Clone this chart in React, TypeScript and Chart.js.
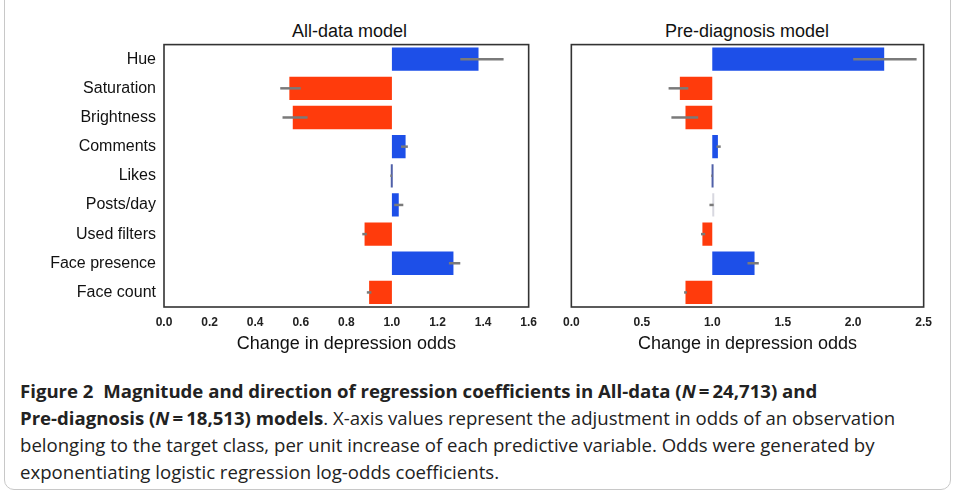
import React, { useEffect, useRef } from "react";
import { Chart, registerables } from "chart.js";
Chart.register(...registerables);

const categories = ["Hue", "Saturation", "Brightness", "Comments", "Likes", "Posts/day", "Used filters", "Face presence", "Face count"];
const allValues = [1.38, 0.55, 0.565, 1.06, 0.995, 1.03, 0.88, 1.27, 0.9];
const allErrLo = [1.3, 0.51, 0.52, 1.04, 0.993, 1.01, 0.87, 1.25, 0.89];
const allErrHi = [1.49, 0.6, 0.63, 1.07, 1.0, 1.05, 0.89, 1.3, 0.91];
const preValues = [2.22, 0.77, 0.81, 1.04, 0.995, 1.01, 0.93, 1.3, 0.81];
const preErrLo = [2.0, 0.69, 0.71, 1.03, 0.993, 0.98, 0.92, 1.25, 0.8];
const preErrHi = [2.45, 0.83, 0.9, 1.06, 1.0, 1.01, 0.95, 1.33, 0.82];
const allTicks = [0, 0.2, 0.4, 0.6, 0.8, 1.0, 1.2, 1.4, 1.6];
const preTicks = [0, 0.5, 1.0, 1.5, 2.0, 2.5];

const BLUE = "#1d4fe8";
const RED = "#ff3b0c";

function makeChart(canvas: HTMLCanvasElement, values: number[], lo: number[], hi: number[], ticks: number[], showCats: boolean, yWidth: number, padRight: number, pale: number[]) {
  const colors = values.map((v, i) => (pale.includes(i) ? "#d8d8e0" : i === 4 ? "#5060a8" : v >= 1 ? BLUE : RED));
  const plugin = {
    id: "extras",
    afterDatasetsDraw(chart: any) {
      const { ctx, chartArea: a, scales } = chart;
      ctx.save();
      ctx.strokeStyle = "#7a7a7a";
      ctx.lineWidth = 2.5;
      categories.forEach((_, i) => {
        const y = scales.y.getPixelForValue(i);
        ctx.beginPath();
        ctx.moveTo(scales.x.getPixelForValue(lo[i]), y);
        ctx.lineTo(scales.x.getPixelForValue(hi[i]), y);
        ctx.stroke();
      });
      ctx.strokeStyle = "#333";
      ctx.lineWidth = 1.6;
      ctx.strokeRect(a.left, a.top, a.right - a.left, a.bottom - a.top);
      ctx.restore();
    },
  };
  return new Chart(canvas, {
    type: "bar",
    data: {
      labels: categories,
      datasets: [{
        data: values.map((v) => [1, v]) as any,
        backgroundColor: colors,
        borderColor: colors,
        borderWidth: 0,
        barPercentage: 1,
        categoryPercentage: 0.8,
        minBarLength: 2,
      }],
    },
    options: {
      indexAxis: "y",
      animation: false,
      responsive: false,
      layout: { padding: { top: 1, right: padRight, left: 0, bottom: 0 } },
      plugins: { legend: { display: false }, tooltip: { enabled: false } },
      scales: {
        x: {
          type: "linear",
          min: ticks[0],
          max: ticks[ticks.length - 1],
          afterBuildTicks: (s: any) => { s.ticks = ticks.map((t) => ({ value: t })); },
          afterFit: (s: any) => { s.height = 52; },
          grid: { display: false, drawTicks: false },
          border: { display: false },
          ticks: { color: "#222", font: { family: "Arial", size: 12, weight: "bold" }, padding: 8, maxRotation: 0, callback: (v: any) => Number(v).toFixed(1) },
          title: { display: true, text: "Change in depression odds", color: "#111", font: { family: "Arial", size: 18 }, padding: { top: 2 } },
        },
        y: {
          afterFit: (s: any) => { s.width = yWidth; },
          grid: { display: false, drawTicks: false },
          border: { display: false },
          ticks: { display: true, color: showCats ? "#111" : "rgba(0,0,0,0)", font: { family: "Arial", size: 16 }, padding: 8 },
        },
      },
    },
    plugins: [plugin],
  } as any);
}

export default function App() {
  const r1 = useRef<HTMLCanvasElement>(null);
  const r2 = useRef<HTMLCanvasElement>(null);
  useEffect(() => {
    const c1 = makeChart(r1.current!, allValues, allErrLo, allErrHi, allTicks, true, 164, 10, []);
    const c2 = makeChart(r2.current!, preValues, preErrLo, preErrHi, preTicks, false, 7, 8, [5]);
    return () => { c1.destroy(); c2.destroy(); };
  }, []);
  const title: React.CSSProperties = { position: "absolute", top: 21, fontFamily: "Arial", fontSize: 18, color: "#111", textAlign: "center" };
  const cap: React.CSSProperties = { fontFamily: "'Open Sans', 'Noto Sans', sans-serif", fontSize: 18.6, color: "#222", lineHeight: "27px" };
  return (
    <div style={{ position: "fixed", left: 0, top: 0, width: 955, height: 497, background: "#fff" }}>
      <div style={{ position: "absolute", left: 4, top: -10, width: 945, height: 498, border: "1.5px solid #c8c8c8", borderRadius: 10 }} />
      <div style={{ ...title, left: 164, width: 371 }}>All-data model</div>
      <div style={{ ...title, left: 562, width: 370 }}>Pre-diagnosis model</div>
      <canvas ref={r1} width={545} height={332} style={{ position: "absolute", left: 0, top: 27 }} />
      <canvas ref={r2} width={385} height={332} style={{ position: "absolute", left: 555, top: 27 }} />
      <div style={{ position: "absolute", left: 20, top: 377, width: 935, ...cap }}>
        <b>Figure 2&nbsp; Magnitude and direction of regression coefficients in All-data (<i>N</i>&thinsp;=&thinsp;24,713) and<br />
        Pre-diagnosis (<i>N</i>&thinsp;=&thinsp;18,513) models</b>. X-axis values represent the adjustment in odds of an observation<br />
        belonging to the target class, per unit increase of each predictive variable. Odds were generated by<br />
        exponentiating logistic regression log-odds coefficients.
      </div>
    </div>
  );
}
